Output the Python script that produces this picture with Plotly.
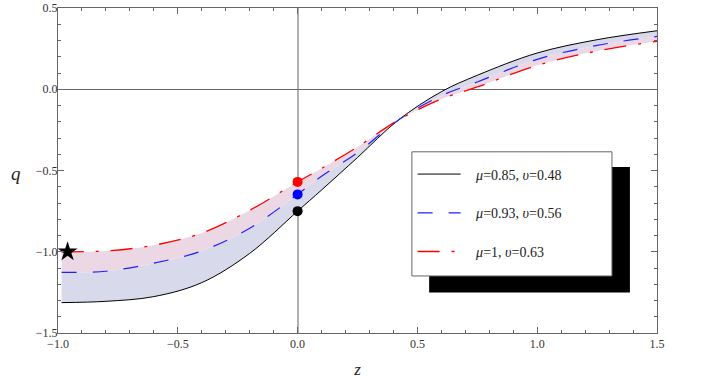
import plotly.graph_objects as go

# -- values --
z = [-0.985, -0.8, -0.6, -0.4, -0.2, 0.0, 0.1, 0.25, 0.42, 0.6, 0.75, 1.0, 1.25, 1.5]
q_black = [-1.313, -1.305, -1.276, -1.19, -1.01, -0.75, -0.62, -0.42, -0.19, -0.015, 0.086, 0.223, 0.305, 0.36]
q_blue = [-1.127, -1.12, -1.07, -0.995, -0.855, -0.647, -0.535, -0.39, -0.19, -0.04, 0.045, 0.184, 0.27, 0.325]
q_red = [-1.0, -0.995, -0.96, -0.885, -0.745, -0.57, -0.487, -0.355, -0.19, -0.06, 0.014, 0.147, 0.235, 0.295]

names = ["<i>μ</i>=0.85, <i>υ</i>=0.48", "<i>μ</i>=0.93, <i>υ</i>=0.56", "<i>μ</i>=1, <i>υ</i>=0.63"]

# present-day values at z = 0 and the star point
dot_z = [0.0, 0.0, 0.0]
dot_q = [-0.57, -0.647, -0.75]
dot_colors = ["#ff0000", "#0000ff", "#000000"]
star_z = [-0.96]
star_q = [-1.0]

serif = "Liberation Serif, Times New Roman, serif"

fig = go.Figure()

# shaded bands (black -> blue lavender, blue -> red pink)
fig.add_trace(go.Scatter(x=z, y=q_black, mode="lines", line=dict(width=0, shape="spline"),
                         showlegend=False, hoverinfo="skip"))
fig.add_trace(go.Scatter(x=z, y=q_blue, mode="lines", line=dict(width=0, shape="spline"),
                         fill="tonexty", fillcolor="rgb(216,217,235)", showlegend=False, hoverinfo="skip"))
fig.add_trace(go.Scatter(x=z, y=q_red, mode="lines", line=dict(width=0, shape="spline"),
                         fill="tonexty", fillcolor="rgb(235,216,228)", showlegend=False, hoverinfo="skip"))

# curves (names padded so the text sits a bit away from the line sample)
pad = "&nbsp;&nbsp;&nbsp;"
fig.add_trace(go.Scatter(x=z, y=q_black, mode="lines", name=pad + names[0], legendgroup="a",
                         line=dict(color="black", width=1, shape="spline")))
fig.add_trace(go.Scatter(x=z, y=q_blue, mode="lines", name=pad + names[1], legendgroup="b",
                         line=dict(color="#2020ff", width=1.2, shape="spline", dash="15px,16px")))
fig.add_trace(go.Scatter(x=z, y=q_red, mode="lines", name=pad + names[2], legendgroup="c",
                         line=dict(color="red", width=1.3, shape="spline", dash="22px,12px,3px,12px")))

fig.add_trace(go.Scatter(x=dot_z, y=dot_q, mode="markers", showlegend=False,
                         marker=dict(color=dot_colors, size=10)))
fig.add_trace(go.Scatter(x=star_z, y=star_q, mode="markers", showlegend=False,
                         marker=dict(color="black", size=15, symbol="star")))

# legend box with its black drop shadow
fig.add_shape(type="rect", x0=0.549, x1=1.387, y0=-1.25, y1=-0.478,
              fillcolor="black", line=dict(width=0), layer="above")
fig.add_shape(type="rect", x0=0.477, x1=1.312, y0=-1.149, y1=-0.385,
              fillcolor="white", line=dict(color="#666666", width=1), layer="above")

axis_font = dict(family=serif, size=12, color="#333333")

fig.update_xaxes(range=[-1.0, 1.5], dtick=0.5, tickformat=".1f", ticks="inside", ticklen=6,
                 tickcolor="#666666", showline=True, linecolor="#666666", linewidth=1, mirror="allticks",
                 showgrid=False, zeroline=True, zerolinecolor="#b0b0b0", zerolinewidth=1.5,
                 tickfont=axis_font, automargin=False,
                 minor=dict(dtick=0.1, ticks="inside", ticklen=3, tickcolor="#666666"),
                 title=dict(text="<i>z</i>", font=dict(family=serif, size=17, color="#222222"),
                            standoff=12))
fig.update_yaxes(range=[-1.5, 0.5], dtick=0.5, tickformat=".1f", ticks="inside", ticklen=6,
                 tickcolor="#666666", showline=True, linecolor="#666666", linewidth=1, mirror="allticks",
                 showgrid=False, zeroline=True, zerolinecolor="#666666", zerolinewidth=1,
                 tickfont=axis_font, automargin=False, ticklabelstandoff=-3,
                 minor=dict(dtick=0.1, ticks="inside", ticklen=3, tickcolor="#666666"))

fig.add_annotation(x=0, y=0.49, xref="paper", yref="paper", xanchor="right", xshift=-35,
                   text="<i>q</i>", showarrow=False,
                   font=dict(family=serif, size=19, color="#222222"))

fig.update_layout(
    width=706, height=388,
    margin=dict(l=58, r=49, t=8, b=55),
    plot_bgcolor="white", paper_bgcolor="white",
    legend=dict(x=0.592, y=0.537, xanchor="left", yanchor="top", bgcolor="rgba(0,0,0,0)",
                borderwidth=0, tracegroupgap=17.5, itemwidth=43,
                font=dict(family=serif, size=14, color="#222222")),
)

# drop the browser's default 8px page margin so the figure sits at the window corner
fig.write_html("out.html", config={"displayModeBar": False},
               post_script="document.body.style.margin='0';")
